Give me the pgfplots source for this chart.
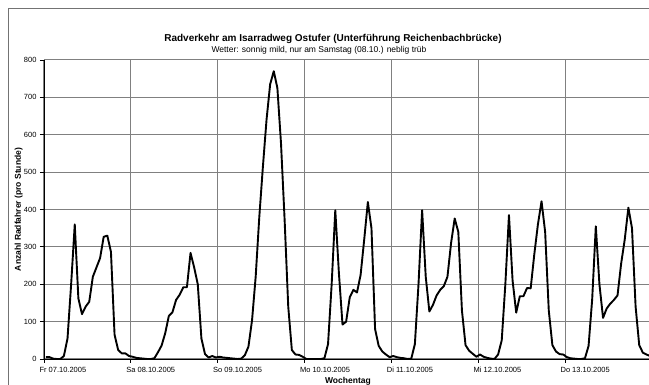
\documentclass[border=0pt]{standalone}
\usepackage{fontspec}
\setmainfont{Liberation Sans}
\usepackage{pgfplots}
\pgfplotsset{compat=1.18}
\definecolor{gridgray}{rgb}{0.5,0.5,0.5}
\definecolor{framegray}{rgb}{0.45,0.45,0.45}
\begin{document}
\begin{tikzpicture}
\useasboundingbox (-44pt,-26pt) rectangle (605pt,359pt);
\begin{axis}[
  at={(0pt,0pt)}, anchor=south west,
  scale only axis, width=605pt, height=299pt,
  xmin=0, xmax=167.2, ymin=0, ymax=800,
  clip=false,
  axis x line*=bottom, axis y line*=left,
  axis line style={line width=0.9pt, black, -},
  xtick={0,24,48,72,96,120,144},
  xticklabels={Fr 07.10.2005, Sa 08.10.2005, So 09.10.2005, Mo 10.10.2005, Di 11.10.2005, Mi 12.10.2005, Do 13.10.2005},
  ytick={0,100,...,800},
  grid=major, grid style={gridgray, line width=1pt},
  tick align=outside, major tick length=4pt,
  tick style={black, line width=0.8pt},
  /pgf/number format/assume math mode=true,
  tick label style={font=\fontsize{7.5}{9}\selectfont},
  xticklabel style={anchor=north west, xshift=-8pt, yshift=-1pt},
  yticklabel style={anchor=east},
  xlabel={Wochentag},
  ylabel={Anzahl Radfahrer (pro Stunde)},
  label style={font=\bfseries\fontsize{8.5}{10}\selectfont},
  xlabel style={at={(axis description cs:0.5024,0)}, anchor=center, yshift=-22pt},
  ylabel style={at={(axis description cs:-0.042,0.5)}, anchor=center},
]
\addplot[black, line width=1.9pt, line join=round] coordinates {
(0.5,5)(1.5,5)(2.5,1)(3.5,0)(4.5,0)(5.5,8)(6.5,55)(7.5,200)(8.5,360)(9.5,162)(10.5,120)(11.5,140)(12.5,153)(13.5,220)(14.5,245)(15.5,270)(16.5,327)(17.5,330)(18.5,287)(19.5,65)(20.5,24)(21.5,15)(22.5,15)(23.5,8)
(24.5,6)(25.5,3)(26.5,2)(27.5,1)(28.5,0)(29.5,0)(30.5,2)(31.5,18)(32.5,36)(33.5,69)(34.5,115)(35.5,125)(36.5,158)(37.5,172)(38.5,192)(39.5,192)(40.5,284)(41.5,245)(42.5,200)(43.5,55)(44.5,13)(45.5,4)(46.5,8)(47.5,4)
(48.5,6)(49.5,4)(50.5,3)(51.5,2)(52.5,1)(53.5,0)(54.5,1)(55.5,10)(56.5,33)(57.5,104)(58.5,220)(59.5,380)(60.5,515)(61.5,640)(62.5,735)(63.5,770)(64.5,725)(65.5,577)(66.5,372)(67.5,140)(68.5,24)(69.5,12)(70.5,11)(71.5,6)
(72.5,0)(73.5,0)(74.5,0)(75.5,0)(76.5,0)(77.5,2)(78.5,40)(79.5,200)(80.5,398)(81.5,230)(82.5,92)(83.5,100)(84.5,165)(85.5,185)(86.5,178)(87.5,225)(88.5,320)(89.5,420)(90.5,350)(91.5,80)(92.5,35)(93.5,20)(94.5,12)(95.5,5)
(96.5,8)(97.5,5)(98.5,3)(99.5,2)(100.5,0)(101.5,1)(102.5,40)(103.5,200)(104.5,398)(105.5,220)(106.5,127)(107.5,145)(108.5,170)(109.5,185)(110.5,195)(111.5,220)(112.5,310)(113.5,376)(114.5,340)(115.5,130)(116.5,37)(117.5,22)(118.5,14)(119.5,6)
(120.5,12)(121.5,6)(122.5,3)(123.5,1)(124.5,0)(125.5,12)(126.5,50)(127.5,200)(128.5,385)(129.5,210)(130.5,124)(131.5,168)(132.5,168)(133.5,190)(134.5,189)(135.5,280)(136.5,360)(137.5,422)(138.5,340)(139.5,130)(140.5,37)(141.5,20)(142.5,13)(143.5,12)
(144.5,5)(145.5,2)(146.5,1)(147.5,0)(148.5,0)(149.5,2)(150.5,35)(151.5,160)(152.5,355)(153.5,200)(154.5,110)(155.5,135)(156.5,148)(157.5,158)(158.5,170)(159.5,255)(160.5,320)(161.5,405)(162.5,350)(163.5,140)(164.5,37)(165.5,17)(166.5,12)(167.5,8)
};
\end{axis}
\draw[framegray, line width=0.9pt] (-36pt,-30pt) -- (-36pt,351pt) -- (620pt,351pt);
\node[font=\bfseries\fontsize{10}{12}\selectfont] at (289pt,320pt) {Radverkehr am Isarradweg Ostufer (Unterführung Reichenbachbrücke)};
\node[font=\fontsize{8.5}{10}\selectfont] at (275pt,309pt) {Wetter: sonnig mild, nur am Samstag (08.10.) neblig trüb};
\end{tikzpicture}
\end{document}
